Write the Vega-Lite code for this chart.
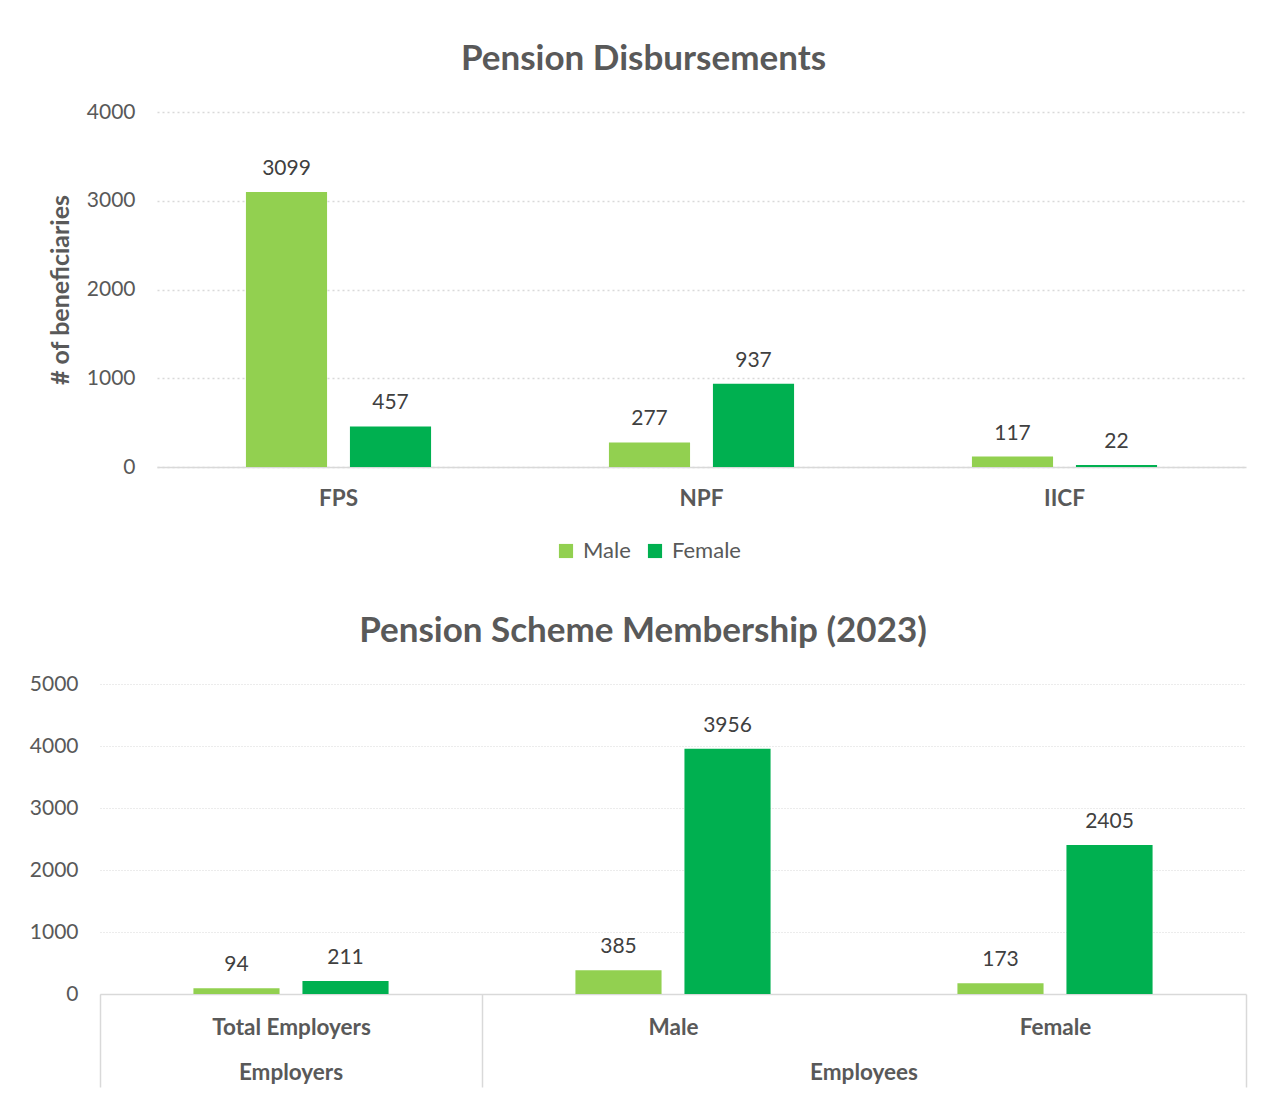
{
  "$schema": "https://vega.github.io/schema/vega-lite/v6.json",
  "background": "white",
  "padding": {"left": 29, "top": 42, "right": 0, "bottom": 0},
  "center": true,
  "spacing": 52,
  "resolve": {"scale": {"color": "independent", "xOffset": "independent"}, "legend": {"color": "independent"}},
  "config": {
    "font": "Lato",
    "view": {"stroke": null},
    "axis": {"labelFont": "Lato", "titleFont": "Lato"},
    "legend": {"labelFont": "Lato"}
  },
  "vconcat": [
    {
      "width": 1089,
      "height": 355,
      "title": {"text": "Pension Disbursements", "font": "Lato", "fontSize": 35, "fontWeight": "bold", "color": "#595959", "anchor": "middle", "frame": "group", "dx": -58, "offset": 24},
      "data": {"values": [
        {"scheme": "FPS", "gender": "Male", "count": 3099},
        {"scheme": "FPS", "gender": "Female", "count": 457},
        {"scheme": "NPF", "gender": "Male", "count": 277},
        {"scheme": "NPF", "gender": "Female", "count": 937},
        {"scheme": "IICF", "gender": "Male", "count": 117},
        {"scheme": "IICF", "gender": "Female", "count": 22}
      ]},
      "encoding": {
        "x": {"field": "scheme", "type": "nominal", "sort": ["FPS", "NPF", "IICF"],
          "scale": {"paddingInner": 0.49, "paddingOuter": 0.245},
          "axis": {"title": null, "labelAngle": 0, "labelFontSize": 22.5, "labelFontWeight": "bold", "labelColor": "#595959", "ticks": false, "tickSize": 0, "labelPadding": 20, "domain": true, "domainColor": "#d9d9d9", "domainWidth": 1.5, "grid": false}},
        "xOffset": {"field": "gender", "type": "nominal", "sort": ["Male", "Female"], "scale": {"domain": ["Male", "Female"], "paddingInner": 0.22, "paddingOuter": 0}},
        "y": {"field": "count", "type": "quantitative", "scale": {"domain": [0, 4000]},
          "axis": {"title": "# of beneficiaries", "titleFontSize": 25, "titleFontWeight": "bold", "titleColor": "#595959", "titlePadding": 13, "labelFontSize": 21, "labelColor": "#595959", "labelPadding": 22, "format": "d", "ticks": false, "domain": false, "values": [0, 1000, 2000, 3000, 4000], "grid": true, "gridColor": "#d9d9d9", "gridDash": [2, 3], "gridWidth": 1.5}}
      },
      "layer": [
        {"mark": {"type": "bar"},
         "encoding": {"color": {"field": "gender", "type": "nominal", "sort": ["Male", "Female"],
           "scale": {"domain": ["Male", "Female"], "range": ["#92D050", "#00B050"]},
           "legend": {"title": null, "orient": "none", "legendX": 398, "legendY": 428, "direction": "horizontal", "symbolType": "square", "symbolSize": 200, "symbolStrokeWidth": 0, "labelFontSize": 22, "labelColor": "#595959", "labelOffset": 6, "columnPadding": 13, "padding": 0}}}},
        {"mark": {"type": "text", "baseline": "alphabetic", "dy": -17, "fontSize": 21, "color": "#404040", "font": "Lato"},
         "encoding": {"text": {"field": "count", "type": "quantitative"}}}
      ]
    },
    {
      "width": 1146,
      "height": 310,
      "title": {"text": "Pension Scheme Membership (2023)", "font": "Lato", "fontSize": 35, "fontWeight": "bold", "color": "#595959", "anchor": "middle", "frame": "group", "dx": -30, "offset": 24},
      "data": {"values": [
        {"group": "Employers", "category": "Total Employers", "series": "Series 1", "count": 94},
        {"group": "Employers", "category": "Total Employers", "series": "Series 2", "count": 211},
        {"group": "Employees", "category": "Male", "series": "Series 1", "count": 385},
        {"group": "Employees", "category": "Male", "series": "Series 2", "count": 3956},
        {"group": "Employees", "category": "Female", "series": "Series 1", "count": 173},
        {"group": "Employees", "category": "Female", "series": "Series 2", "count": 2405}
      ]},
      "resolve": {"axis": {"x": "independent", "y": "independent"}},
      "layer": [
        {"mark": {"type": "bar"},
         "encoding": {
           "x": {"field": "category", "type": "nominal", "sort": ["Total Employers", "Male", "Female"],
             "scale": {"paddingInner": 0, "paddingOuter": 0},
             "axis": {"orient": "bottom", "title": null, "labelAngle": 0, "labelFontSize": 22.5, "labelFontWeight": "bold", "labelColor": "#595959", "labelPadding": -71, "tickBand": "extent", "ticks": true, "tickSize": 93, "tickWidth": 1.5, "tickColor": {"condition": {"test": "datum.value === 'Male'", "value": "transparent"}, "value": "#d9d9d9"}, "domain": true, "domainColor": "#d9d9d9", "domainWidth": 1.5, "grid": false}},
           "xOffset": {"field": "series", "type": "nominal", "sort": ["Series 1", "Series 2"], "scale": {"domain": ["Series 1", "Series 2"], "paddingInner": 0.21, "paddingOuter": 0.857}},
           "y": {"field": "count", "type": "quantitative", "scale": {"domain": [0, 5000]},
             "axis": {"title": null, "labelFontSize": 21, "labelColor": "#595959", "labelPadding": 22, "format": "d", "ticks": false, "domain": false, "values": [0, 1000, 2000, 3000, 4000, 5000], "grid": true, "gridColor": "#d9d9d9", "gridDash": [1, 2], "gridWidth": 1}},
           "color": {"field": "series", "type": "nominal", "scale": {"domain": ["Series 1", "Series 2"], "range": ["#92D050", "#00B050"]}, "legend": null}
         }},
        {"mark": {"type": "text", "baseline": "alphabetic", "dy": -17, "fontSize": 21, "color": "#404040", "font": "Lato"},
         "encoding": {
           "x": {"field": "category", "type": "nominal", "sort": ["Total Employers", "Male", "Female"],
             "axis": {"orient": "bottom", "title": null, "labelAngle": 0, "labelFontSize": 22.5, "labelFontWeight": "bold", "labelColor": "#595959", "labelPadding": 67, "ticks": false, "domain": false, "grid": false,
               "labelExpr": "datum.value === 'Total Employers' ? 'Employers' : (datum.value === 'Female' ? 'Employees' : '')",
               "labelOffset": {"condition": {"test": "datum.value === 'Female'", "value": -191}, "value": 0}}},
           "xOffset": {"field": "series", "type": "nominal", "sort": ["Series 1", "Series 2"]},
           "y": {"field": "count", "type": "quantitative",
             "axis": {"orient": "right", "title": null, "labels": false, "ticks": false, "domain": false, "grid": false, "minExtent": 57}},
           "text": {"field": "count", "type": "quantitative"}
         }}
      ]
    }
  ]
}
